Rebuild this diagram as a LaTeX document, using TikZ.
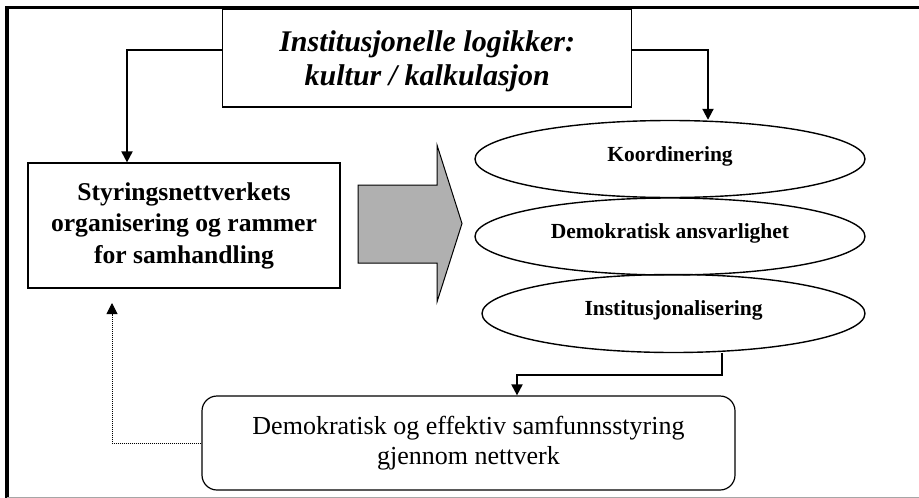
\documentclass[tikz,border=0pt]{standalone}
\usepackage{fontspec}
\setmainfont{Liberation Serif}
\usetikzlibrary{arrows.meta,shapes.geometric}
\begin{document}
\begin{tikzpicture}[x=1pt,y=-1pt,
  conn/.style={line width=2pt,-{Triangle[width=11pt,length=11pt]}},
  fback/.style={line width=1pt,dash pattern=on 1pt off 1pt,-{Triangle[width=11pt,length=11pt]}},
  boxrect/.style={draw,line width=1.2pt,inner sep=0pt,align=center},
  oval/.style={draw,ellipse,line width=1.4pt,inner sep=0pt,minimum width=390pt,minimum height=77pt,
    text height=15pt,text depth=11pt,
    font=\fontsize{21.5}{24}\selectfont\bfseries},
  ]
\useasboundingbox (0,0) rectangle (919,498);
\fill[white] (0,0) rectangle (919,498);
% nodes
\node[boxrect,minimum width=409pt,minimum height=98pt,
  font=\fontsize{30}{34.5}\selectfont\bfseries\itshape] (top) at (427.2,58)
  {\rule{0pt}{27pt}Institusjonelle logikker:\\kultur / kalkulasjon};
\node[boxrect,minimum width=312pt,minimum height=125pt,
  font=\fontsize{25.6}{31.5}\selectfont\bfseries] (left) at (184,225.5)
  {Styringsnettverkets\\organisering og rammer\\for samhandling};
\node[oval] (e1) at (670,159) {Koordinering};
\node[oval] (e2) at (670,236.5) {Demokratisk ansvarlighet};
\node[oval,minimum width=383pt,minimum height=78pt] (e3) at (673.5,313.5) {Institusjonalisering};
\node[boxrect,rounded corners=15pt,minimum width=533pt,minimum height=94pt,
  font=\fontsize{26}{30}\selectfont] (bot) at (468.5,443)
  {Demokratisk og effektiv samfunnsstyring\\gjennom nettverk};
\coordinate (fb) at (112,303);
% block arrow
\draw[fill=black!31,line width=1pt] (358,185) -- (437,185) -- (437,145) -- (462,223.5)
  -- (437,302) -- (437,263) -- (358,263) -- cycle;
% connectors
\draw[conn] ([yshift=8.5pt]top.west) -| ([xshift=-57pt]left.north);
\draw[conn] ([yshift=8.5pt]top.east) -| ([xshift=38pt]e1.north);
\draw[conn] ([xshift=48.5pt]e3.south) -- ++(0,22) -| ([xshift=48.5pt]bot.north);
\draw[fback] (bot.west) -| (fb);
% frame
\draw[line width=3.5pt] (7,498) -- (7,7.5) -- (919,7.5);
\draw[black!35,line width=1pt] (7,497) -- (919,497);
\end{tikzpicture}
\end{document}
